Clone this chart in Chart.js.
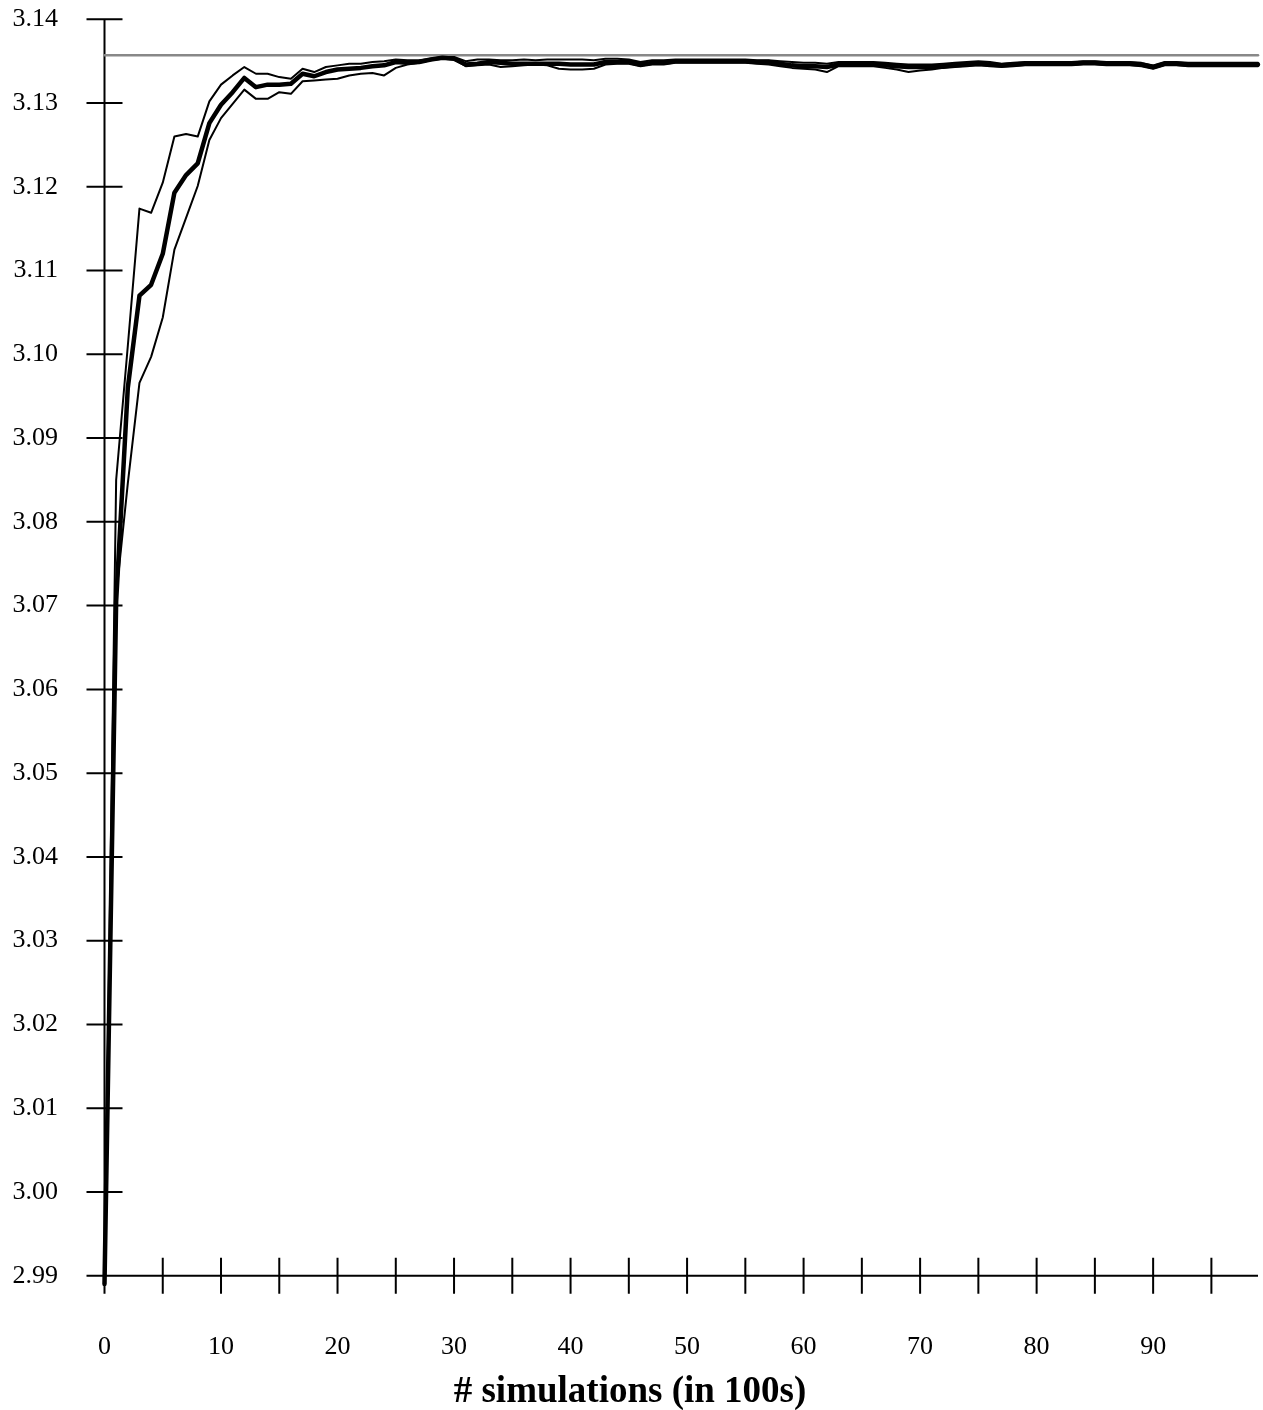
<!DOCTYPE html>
<html>
<head>
<meta charset="utf-8">
<script src="https://cdn.jsdelivr.net/npm/chart.js@4"></script>
<style>
  body { margin: 0; background: #fff; }
  #wrap { width: 1263px; height: 1410px; position: relative; }
</style>
</head>
<body>
<div id="wrap"><canvas id="piChart"></canvas></div>
<script>
// x positions: number of simulations (in 100s)
const steps = Array.from({ length: 100 }, (_, i) => i);

// mean estimate (thick line)
const meanEst = [
    2.9890, 3.0705, 3.0960, 3.1070, 3.1083, 3.1120, 3.1193, 3.1214, 3.1228, 3.1276,
    3.1298, 3.1313, 3.1330, 3.1319, 3.1322, 3.1322, 3.1323, 3.1335, 3.1332, 3.1337,
    3.1340, 3.1341, 3.1342, 3.1344, 3.1345, 3.1349, 3.1348, 3.1349, 3.1352, 3.1354,
    3.1353, 3.1346, 3.1347, 3.1349, 3.1348, 3.1347, 3.1347, 3.1347, 3.1347, 3.1347,
    3.1346, 3.1346, 3.1346, 3.1349, 3.1349, 3.1349, 3.1346, 3.1348, 3.1348, 3.1350,
    3.1350, 3.1350, 3.1350, 3.1350, 3.1350, 3.1350, 3.1349, 3.1349, 3.1347, 3.1345,
    3.1344, 3.1344, 3.1343, 3.1346, 3.1346, 3.1346, 3.1346, 3.1345, 3.1344, 3.1343,
    3.1343, 3.1343, 3.1344, 3.1345, 3.1346, 3.1347, 3.1346, 3.1345, 3.1346, 3.1347,
    3.1347, 3.1347, 3.1347, 3.1347, 3.1348, 3.1348, 3.1347, 3.1347, 3.1347, 3.1346,
    3.1343, 3.1347, 3.1347, 3.1346, 3.1346, 3.1346, 3.1346, 3.1346, 3.1346, 3.1346
];

// upper bound (thin line)
const upperEst = [
    2.9890, 3.0850, 3.1010, 3.1174, 3.1169, 3.1205, 3.1260, 3.1263, 3.1260, 3.1302,
    3.1322, 3.1333, 3.1343, 3.1335, 3.1335, 3.1331, 3.1329, 3.1341, 3.1337, 3.1343,
    3.1345, 3.1347, 3.1347, 3.1349, 3.1350, 3.1352, 3.1351, 3.1351, 3.1353, 3.1355,
    3.1355, 3.1350, 3.1352, 3.1352, 3.1351, 3.1351, 3.1352, 3.1351, 3.1352, 3.1352,
    3.1352, 3.1352, 3.1351, 3.1353, 3.1353, 3.1352, 3.1349, 3.1351, 3.1351, 3.1352,
    3.1352, 3.1352, 3.1352, 3.1352, 3.1352, 3.1352, 3.1351, 3.1351, 3.1350, 3.1349,
    3.1348, 3.1348, 3.1347, 3.1349, 3.1349, 3.1349, 3.1349, 3.1348, 3.1347, 3.1346,
    3.1346, 3.1346, 3.1347, 3.1348, 3.1349, 3.1350, 3.1349, 3.1347, 3.1348, 3.1349,
    3.1349, 3.1349, 3.1349, 3.1349, 3.1350, 3.1350, 3.1349, 3.1349, 3.1349, 3.1348,
    3.1345, 3.1349, 3.1349, 3.1348, 3.1348, 3.1348, 3.1348, 3.1348, 3.1348, 3.1348
];

// lower bound (thin line)
const lowerEst = [
    2.9890, 3.0712, 3.0846, 3.0966, 3.0997, 3.1044, 3.1125, 3.1163, 3.1201, 3.1256,
    3.1282, 3.1299, 3.1316, 3.1305, 3.1305, 3.1313, 3.1311, 3.1326, 3.1327, 3.1328,
    3.1329, 3.1333, 3.1335, 3.1336, 3.1333, 3.1342, 3.1346, 3.1348, 3.1351, 3.1353,
    3.1352, 3.1344, 3.1345, 3.1346, 3.1343, 3.1344, 3.1345, 3.1346, 3.1345, 3.1341,
    3.1340, 3.1340, 3.1341, 3.1346, 3.1347, 3.1347, 3.1344, 3.1346, 3.1346, 3.1348,
    3.1348, 3.1348, 3.1348, 3.1348, 3.1348, 3.1348, 3.1347, 3.1346, 3.1344, 3.1342,
    3.1341, 3.1340, 3.1337, 3.1344, 3.1344, 3.1344, 3.1344, 3.1342, 3.1340, 3.1337,
    3.1339, 3.1340, 3.1342, 3.1343, 3.1344, 3.1345, 3.1344, 3.1343, 3.1344, 3.1345,
    3.1345, 3.1345, 3.1345, 3.1345, 3.1346, 3.1346, 3.1345, 3.1345, 3.1345, 3.1344,
    3.1341, 3.1345, 3.1345, 3.1344, 3.1344, 3.1344, 3.1344, 3.1344, 3.1344, 3.1344
];

// grey reference level
const refLevel = 3.1357;

// axis ticks
const yTicks = ['2.99', '3.00', '3.01', '3.02', '3.03', '3.04', '3.05', '3.06',
                '3.07', '3.08', '3.09', '3.10', '3.11', '3.12', '3.13', '3.14'];
const xTickMarks = [0, 5, 10, 15, 20, 25, 30, 35, 40, 45, 50, 55, 60, 65, 70, 75, 80, 85, 90, 95];
const xTickLabels = [0, 10, 20, 30, 40, 50, 60, 70, 80, 90];
const xTitle = '# simulations (in 100s)';

const FONT = '"Liberation Serif", "Times New Roman", serif';

// axes with ticks crossing the axis line, plus labels
const axesPlugin = {
    id: 'crossAxes',
    beforeDatasetsDraw(chart) {
        const ctx = chart.ctx;
        const xs = chart.scales.x, ys = chart.scales.y;
        const x0 = xs.getPixelForValue(0);
        const yBase = ys.getPixelForValue(2.99);
        const half = 18;
        ctx.save();
        ctx.strokeStyle = '#000';
        ctx.lineWidth = 2;
        ctx.beginPath();
        // y axis line
        ctx.moveTo(x0, ys.getPixelForValue(3.14));
        ctx.lineTo(x0, yBase + half);
        // x axis line
        ctx.moveTo(x0 - half, yBase);
        ctx.lineTo(xs.getPixelForValue(99), yBase);
        // y ticks
        yTicks.forEach(t => {
            const py = ys.getPixelForValue(parseFloat(t));
            ctx.moveTo(x0 - half, py);
            ctx.lineTo(x0 + half, py);
        });
        // x ticks
        xTickMarks.forEach(v => {
            const px = xs.getPixelForValue(v);
            ctx.moveTo(px, yBase - half);
            ctx.lineTo(px, yBase + half);
        });
        ctx.stroke();
        ctx.restore();
    },
    afterDraw(chart) {
        const ctx = chart.ctx;
        const xs = chart.scales.x, ys = chart.scales.y;
        ctx.save();
        ctx.fillStyle = '#000';
        ctx.font = '26px ' + FONT;
        ctx.textAlign = 'right';
        ctx.textBaseline = 'middle';
        yTicks.forEach(t => {
            ctx.fillText(t, 58, ys.getPixelForValue(parseFloat(t)));
        });
        ctx.textAlign = 'center';
        xTickLabels.forEach(v => {
            ctx.fillText(String(v), xs.getPixelForValue(v), 1347);
        });
        ctx.font = 'bold 37px ' + FONT;
        ctx.fillText(xTitle, 630, 1392);
        ctx.restore();
    }
};

function initChart() {
    const ctx = document.getElementById('piChart').getContext('2d');
    window.piChart = new Chart(ctx, {
        type: 'line',
        data: {
            labels: steps,
            datasets: [
                { data: meanEst, borderColor: '#000', borderWidth: 4.5 },
                { data: upperEst, borderColor: '#000', borderWidth: 2 },
                { data: lowerEst, borderColor: '#000', borderWidth: 2 },
                {
                    data: [{ x: 0, y: refLevel }, { x: 99, y: refLevel }],
                    borderColor: '#888', borderWidth: 2.5
                }
            ]
        },
        options: {
            responsive: true,
            maintainAspectRatio: false,
            animation: false,
            layout: { padding: { left: 104.5, right: 5, top: 19.3, bottom: 134.3 } },
            elements: {
                point: { radius: 0 },
                line: { tension: 0, borderJoinStyle: 'round', borderCapStyle: 'round', fill: false }
            },
            datasets: { line: { clip: false } },
            scales: {
                x: { type: 'linear', min: 0, max: 99, display: false },
                y: { type: 'linear', min: 2.99, max: 3.14, display: false }
            },
            plugins: {
                legend: { display: false },
                tooltip: { enabled: false }
            }
        },
        plugins: [axesPlugin]
    });
}

document.addEventListener('DOMContentLoaded', initChart);
</script>
</body>
</html>
